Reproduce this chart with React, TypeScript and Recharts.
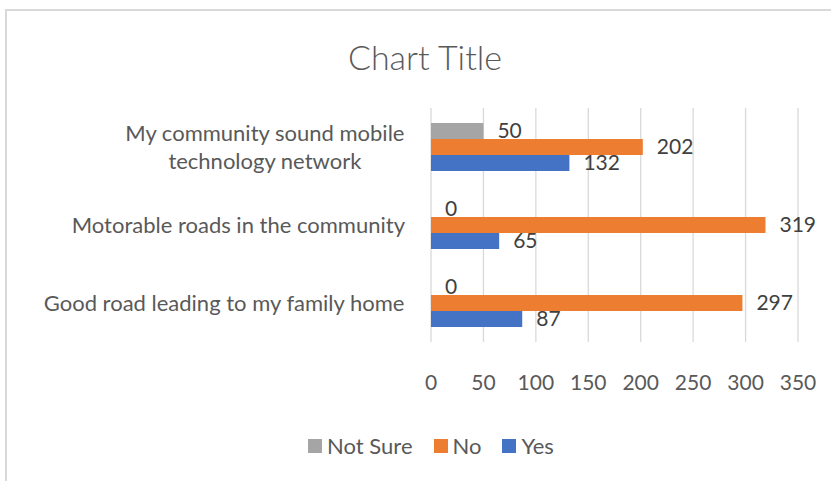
import React from 'react'
import { BarChart, Bar, XAxis, YAxis, CartesianGrid, LabelList } from 'recharts'

const categories = [
  'My community sound mobile\ntechnology network',
  'Motorable roads in the community',
  'Good road leading to my family home',
]
const notSure = [50, 0, 0]
const no = [202, 319, 297]
const yes = [132, 65, 87]
const xTicks = [0, 50, 100, 150, 200, 250, 300, 350]

const series = [
  { key: 'notSure', name: 'Not Sure', color: '#a5a5a5' },
  { key: 'no', name: 'No', color: '#ed7d31' },
  { key: 'yes', name: 'Yes', color: '#4472c4' },
]

const FONT = 'Lato, "Open Sans", sans-serif'
const FS = 21
const CAT_FS = 22

const data = categories.map((c, i) => ({
  category: c,
  notSure: notSure[i],
  no: no[i],
  yes: yes[i],
}))

let ctx: CanvasRenderingContext2D | null = null
function textWidth(s: string, size: number) {
  if (!ctx) ctx = document.createElement('canvas').getContext('2d')
  if (!ctx) return s.length * size * 0.5
  ctx.font = `${size}px Lato`
  return ctx.measureText(s).width
}

function CategoryTick({ x, y, payload }: any) {
  const lines = String(payload.value).split('\n')
  const w = Math.max(...lines.map((l) => textWidth(l, CAT_FS)))
  const cx = x - 24 - w / 2
  const lh = 28
  const start = y - ((lines.length - 1) * lh) / 2
  return (
    <text textAnchor="middle" fill="#595959" fontSize={CAT_FS} fontFamily={FONT}>
      {lines.map((l, i) => (
        <tspan key={i} x={cx} y={start + i * lh} dy="0.35em">
          {l}
        </tspan>
      ))}
    </text>
  )
}

function ValueTick({ x, y, payload }: any) {
  return (
    <text x={x} y={y + 39} dy="0.35em" textAnchor="middle" fill="#595959" fontSize={FS} fontFamily={FONT}>
      {payload.value}
    </text>
  )
}

export default function App() {
  return (
    <div
      style={{
        position: 'fixed',
        left: 0,
        top: 0,
        width: 831,
        height: 481,
        background: '#fff',
        overflow: 'hidden',
        fontFamily: FONT,
      }}
    >
      <div
        style={{
          position: 'absolute',
          left: 5,
          top: 9,
          width: 900,
          height: 600,
          borderTop: '2px solid #d9d9d9',
          borderLeft: '2px solid #d9d9d9',
        }}
      />
      <div
        style={{
          position: 'absolute',
          left: 0,
          width: 850,
          top: 35,
          textAlign: 'center',
          fontSize: 34,
          fontWeight: 300,
          color: '#595959',
          lineHeight: '44px',
        }}
      >
        Chart Title
      </div>
      <div style={{ position: 'absolute', left: 0, top: 0 }}>
        <BarChart
          width={831}
          height={481}
          data={data}
          layout="vertical"
          margin={{ top: 108, right: 33, bottom: 99, left: 0 }}
          barSize={16}
          barGap={0}
        >
          <CartesianGrid horizontal={false} stroke="#d9d9d9" strokeWidth={1.3} />
          <XAxis
            type="number"
            domain={[0, 350]}
            ticks={xTicks}
            axisLine={false}
            tickLine={false}
            tickSize={0}
            height={40}
            tick={<ValueTick />}
            interval={0}
          />
          <YAxis
            type="category"
            dataKey="category"
            width={431}
            axisLine={false}
            tickLine={false}
            tickSize={0}
            tick={<CategoryTick />}
            interval={0}
          />
          {series.map((s) => (
            <Bar
              key={s.key}
              dataKey={s.key}
              name={s.name}
              fill={s.color}
              minPointSize={0.01}
              isAnimationActive={false}
            >
              <LabelList dataKey={s.key} position="right" offset={14} fill="#404040" fontSize={FS} />
            </Bar>
          ))}
        </BarChart>
      </div>
      <div
        style={{
          position: 'absolute',
          left: 0,
          width: 862,
          top: 432,
          display: 'flex',
          justifyContent: 'center',
          alignItems: 'center',
          fontSize: CAT_FS,
          color: '#595959',
          lineHeight: '28px',
        }}
      >
        {series.map((s, i) => (
          <div key={s.key} style={{ display: 'flex', alignItems: 'center', marginLeft: i === 0 ? 0 : 21 }}>
            <span style={{ width: 14, height: 14, background: s.color, marginRight: 5, display: 'inline-block' }} />
            <span>{s.name}</span>
          </div>
        ))}
      </div>
    </div>
  )
}
